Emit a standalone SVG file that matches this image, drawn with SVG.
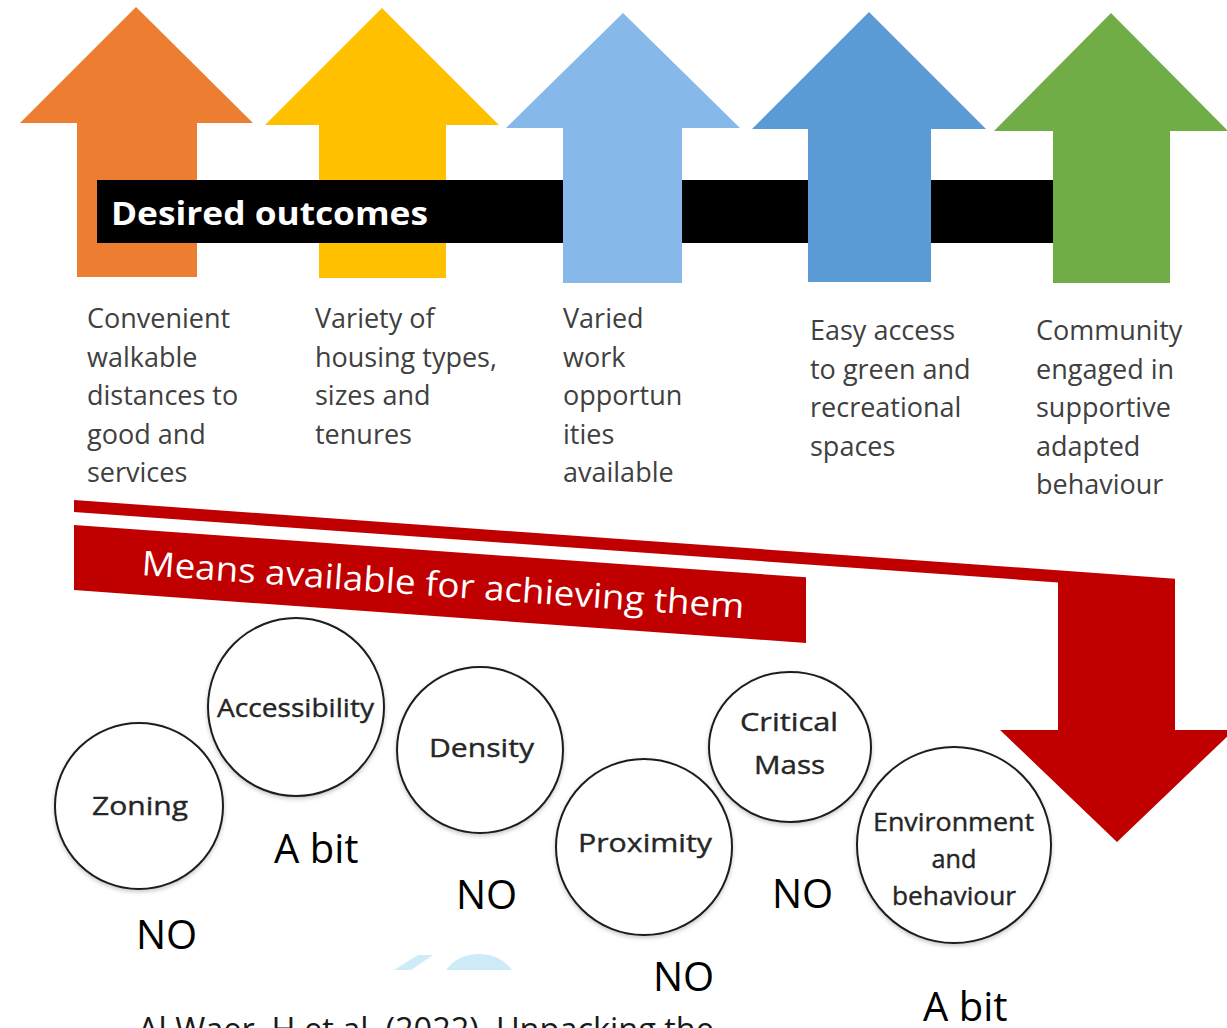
<svg xmlns="http://www.w3.org/2000/svg" width="1227" height="1028" viewBox="0 0 1227 1028">
  <style>
    .outcome { font-family: "Open Sans", "Liberation Sans", sans-serif; font-size: 27px; fill: #404040; }
    .banner { font-family: "Open Sans", "Liberation Sans", sans-serif; fill: #ffffff; }
    .means { fill: #262626; font-family: "Open Sans", "Liberation Sans", sans-serif; font-size: 26px; font-weight: 500; text-anchor: middle; stroke: #262626; stroke-width: 0.4; }
    .ring { fill: #ffffff; stroke: #1e1e1e; stroke-width: 2; filter: url(#soft); }
    .verdict { font-family: "Open Sans", "Liberation Sans", sans-serif; font-size: 40px; fill: #000000; }
  </style>
  <defs>
    <filter id="soft" x="-20%" y="-20%" width="140%" height="140%">
      <feDropShadow dx="0" dy="2" stdDeviation="2" flood-color="#000000" flood-opacity="0.22"/>
    </filter>
  </defs>

  <rect width="1227" height="1028" fill="#ffffff"/>

  <!-- outcome arrows and the black title bar -->
  <g id="arrow-walkable">
    <polygon points="136,7 253,123 197,123 197,277 77,277 77,123 20,123" fill="#ED7D31"/>
  </g>
  <g id="arrow-housing">
    <polygon points="382,8 499,125 446,125 446,278 319,278 319,125 265,125" fill="#FFC000"/>
  </g>
  <g id="desired-outcomes">
    <rect x="97" y="180" width="956" height="63" fill="#000000"/>
    <text class="banner" x="111" y="225" font-size="33" font-weight="700" textLength="317" lengthAdjust="spacingAndGlyphs">Desired outcomes</text>
  </g>
  <g id="arrow-work">
    <polygon points="623,13 740,128 682,128 682,283 563,283 563,128 506,128" fill="#86B8E9"/>
  </g>
  <g id="arrow-green">
    <polygon points="869,12 986,129 931,129 931,282 808,282 808,129 752,129" fill="#5B9BD5"/>
  </g>
  <g id="arrow-community">
    <polygon points="1111,13 1228,131 1170,131 1170,283 1053,283 1053,131 994,131" fill="#70AD47"/>
  </g>

  <!-- outcome descriptions -->
  <g id="outcome-1">
    <text class="outcome" x="87" y="328">Convenient</text>
    <text class="outcome" x="87" y="366.5">walkable</text>
    <text class="outcome" x="87" y="405">distances to</text>
    <text class="outcome" x="87" y="443.5">good and</text>
    <text class="outcome" x="87" y="482">services</text>
  </g>
  <g id="outcome-2">
    <text class="outcome" x="315" y="328">Variety of</text>
    <text class="outcome" x="315" y="366.5">housing types,</text>
    <text class="outcome" x="315" y="405">sizes and</text>
    <text class="outcome" x="315" y="443.5">tenures</text>
  </g>
  <g id="outcome-3">
    <text class="outcome" x="563" y="328">Varied</text>
    <text class="outcome" x="563" y="366.5">work</text>
    <text class="outcome" x="563" y="405">opportun</text>
    <text class="outcome" x="563" y="443.5">ities</text>
    <text class="outcome" x="563" y="482">available</text>
  </g>
  <g id="outcome-4">
    <text class="outcome" x="810" y="340">Easy access</text>
    <text class="outcome" x="810" y="378.5">to green and</text>
    <text class="outcome" x="810" y="417">recreational</text>
    <text class="outcome" x="810" y="455.5">spaces</text>
  </g>
  <g id="outcome-5">
    <text class="outcome" x="1036" y="340">Community</text>
    <text class="outcome" x="1036" y="378.5">engaged in</text>
    <text class="outcome" x="1036" y="417">supportive</text>
    <text class="outcome" x="1036" y="455.5">adapted</text>
    <text class="outcome" x="1036" y="494">behaviour</text>
  </g>

  <!-- red band running down into the big arrow -->
  <g id="connectors">
    <polygon points="74,500 1175,578.7 1175,730 1234,730 1117,842 1000,730 1058,730 1058,582.4 74,512" fill="#C00000"/>
  </g>

  <g id="means-banner">
    <polygon points="74,525 806,577.3 806,643 74,590" fill="#C00000"/>
    <text class="banner" x="141" y="575" font-size="34" textLength="604" lengthAdjust="spacingAndGlyphs" transform="rotate(4.09 141 575)">Means available for achieving them</text>
  </g>

  <!-- means circles -->
  <g id="zoning">
    <ellipse class="ring" cx="139" cy="806" rx="84" ry="83"/>
    <text class="means" x="140" y="815" textLength="96" lengthAdjust="spacingAndGlyphs">Zoning</text>
  </g>
  <g id="accessibility">
    <ellipse class="ring" cx="296" cy="707" rx="88" ry="89"/>
    <text class="means" x="295.5" y="717" textLength="157" lengthAdjust="spacingAndGlyphs">Accessibility</text>
  </g>
  <g id="density">
    <ellipse class="ring" cx="480" cy="750" rx="83" ry="83"/>
    <text class="means" x="481.5" y="757" textLength="105" lengthAdjust="spacingAndGlyphs">Density</text>
  </g>
  <g id="proximity">
    <ellipse class="ring" cx="644" cy="847" rx="88" ry="88"/>
    <text class="means" x="645" y="852" textLength="134" lengthAdjust="spacingAndGlyphs">Proximity</text>
  </g>
  <g id="critical-mass">
    <ellipse class="ring" cx="790" cy="747" rx="81" ry="75"/>
    <text class="means" x="789" y="731" textLength="98" lengthAdjust="spacingAndGlyphs">Critical</text>
    <text class="means" x="789.5" y="774" textLength="71" lengthAdjust="spacingAndGlyphs">Mass</text>
  </g>
  <g id="environment-behaviour">
    <ellipse class="ring" cx="954" cy="845" rx="97" ry="98"/>
    <text class="means" x="953.5" y="831" textLength="161" lengthAdjust="spacingAndGlyphs">Environment</text>
    <text class="means" x="954" y="868" textLength="45" lengthAdjust="spacingAndGlyphs">and</text>
    <text class="means" x="954" y="905" textLength="124" lengthAdjust="spacingAndGlyphs">behaviour</text>
  </g>

  <!-- assessment notes -->
  <g id="verdicts">
    <text class="verdict" x="274" y="863">A bit</text>
    <text class="verdict" x="136" y="949">NO</text>
    <text class="verdict" x="456" y="909">NO</text>
    <text class="verdict" x="772" y="908">NO</text>
    <text class="verdict" x="653" y="991">NO</text>
    <text class="verdict" x="923" y="1021">A bit</text>
  </g>

  <!-- faint light-blue mark partly hidden -->
  <g id="faint-mark" fill="#CDEBF8">
    <polygon points="394,970 418,955 433,955 411,970"/>
    <path d="M446 970 C454 959 466 954 479 954 C493 954 505 960 512 970 Z"/>
  </g>

  <!-- citation, cut by the lower edge -->
  <text x="138" y="1041" font-family="Open Sans, Liberation Sans, sans-serif" font-size="32" fill="#1a1a1a" textLength="576" lengthAdjust="spacingAndGlyphs">Al Waer, H et al. (2022). Unpacking the</text>
</svg>
